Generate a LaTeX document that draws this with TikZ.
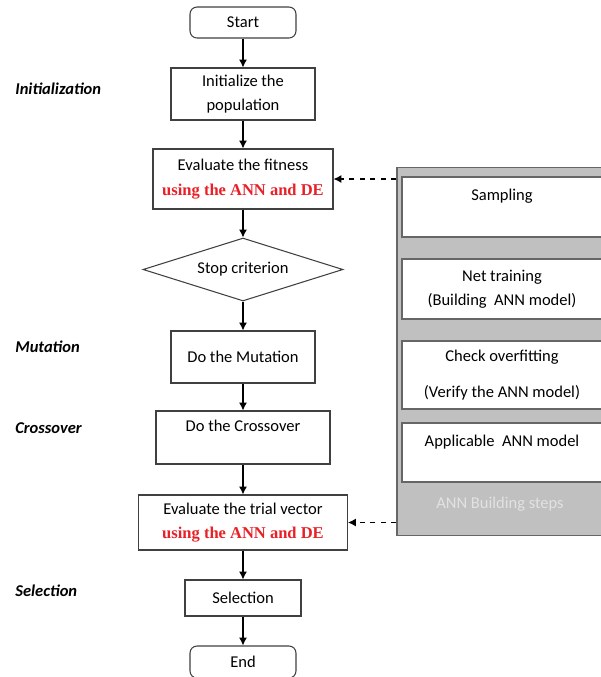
\documentclass[tikz,border=0pt]{standalone}
\usepackage{fontspec}
\usepackage{xcolor}
\setmainfont{Carlito}
\newfontfamily\timesfont{Liberation Serif}
\usetikzlibrary{shapes.geometric,arrows.meta}
\definecolor{annred}{RGB}{232,32,40}
\definecolor{panelgray}{RGB}{192,192,192}
\definecolor{panellabel}{RGB}{226,226,226}
\newcommand{\annde}{\textcolor{annred}{\timesfont\bfseries using the ANN and DE}}

\begin{document}
\begin{tikzpicture}[x=0.02cm, y=-0.02cm, >={Latex[length=4.5pt,width=4.5pt]},
stepbox/.style={rectangle, draw=black!75, fill=white, line width=0.6pt, align=center, inner sep=0pt, font=\fontsize{9.4}{13.5}\selectfont},
endbox/.style={stepbox, rounded corners=4pt},
annbox/.style={rectangle, draw=black!60, fill=white, line width=0.6pt, align=center, inner sep=0pt, minimum width=4cm, font=\fontsize{9.4}{13.5}\selectfont},
phase/.style={anchor=west, inner sep=0pt, font=\fontsize{9.4}{11}\selectfont\bfseries\itshape}]
\useasboundingbox (0,0) rectangle (600,677);

\node[endbox, minimum width=2.12cm, minimum height=0.62cm] at (243,22.5) (start) {Start};
\node[stepbox, minimum width=2.88cm, minimum height=1.04cm] at (243,94) (init) {Initialize the\\population};
\node[stepbox, minimum width=3.6cm, minimum height=1.2cm] at (243,179) (fit) {Evaluate the fitness\\[1pt]\annde};
\node[diamond, draw=black!75, fill=white, line width=0.6pt, aspect=3.17, inner sep=0pt, minimum width=4cm, minimum height=1.26cm, font=\fontsize{9.4}{11}\selectfont] at (243,269.5) (stop) {Stop criterion};
\node[stepbox, minimum width=2.88cm, minimum height=1.04cm] at (243,357) (mut) {Do the Mutation};
\node[stepbox, minimum width=3.48cm, minimum height=1.06cm] at (243,437.5) (cross) {Do the Crossover\\\mbox{}};
\node[stepbox, minimum width=4.18cm, minimum height=1.1cm] at (243,522.5) (trial) {Evaluate the trial vector\\\annde};
\node[stepbox, minimum width=2.32cm, minimum height=0.72cm] at (243,598) (sel) {Selection};
\node[endbox, minimum width=2.12cm, minimum height=0.64cm] at (243,662) (end) {End};

\node[rectangle, draw=black!60, fill=panelgray, line width=0.6pt, minimum width=4.26cm, minimum height=7.38cm] at (503.5,351.5) (panel) {};
\node[annbox, minimum height=1.2cm] at (502,207) (sampling) {Sampling\\\mbox{}};
\node[annbox, minimum height=1.2cm] at (502,289) (training) {Net training\\(Building\ \ ANN model)};
\node[annbox, minimum height=1.36cm] at (502,375) (overfit) {Check overfitting\\[7pt](Verify the ANN model)};
\node[annbox, minimum height=1.18cm] at (502,452.5) (applicable) {Applicable\ \ ANN model\\\mbox{}};
\node[text=panellabel, font=\fontsize{9.4}{11}\selectfont] at (500,504) (steps) {ANN Building steps};

\node[phase] at (15,89) (initphase) {Initialization};
\node[phase] at (15,347) (mutphase) {Mutation};
\node[phase] at (15,428) (crossphase) {Crossover};
\node[phase] at (15,591) (selphase) {Selection};

\draw[line width=0.6pt, ->] (start) -- (init);
\draw[line width=0.6pt, ->] (init) -- (fit);
\draw[line width=0.6pt, ->] (fit) -- (stop);
\draw[line width=0.6pt, ->] (stop) -- (mut);
\draw[line width=0.6pt, ->] (mut) -- (cross);
\draw[line width=0.6pt, ->] (cross) -- (trial);
\draw[line width=0.6pt, ->] (trial) -- (sel);
\draw[line width=0.6pt, ->] (sel) -- (end);
\draw[line width=0.6pt, dashed, ->] (panel.west |- fit) -- (fit);
\draw[line width=0.6pt, dashed, ->] (panel.west |- trial) -- (trial);

\end{tikzpicture}
\end{document}
